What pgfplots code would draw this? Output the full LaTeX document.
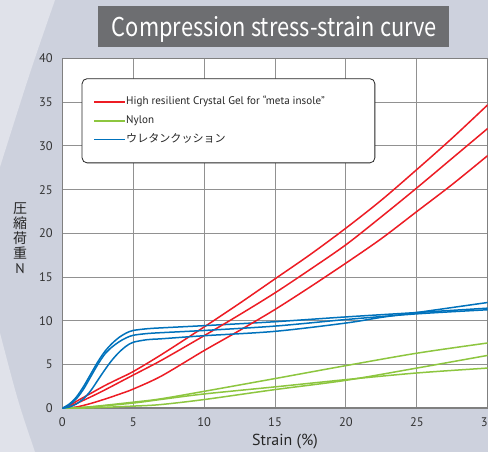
\documentclass[border=0pt]{standalone}
\usepackage{fontspec}
\setmainfont{PT Sans}
\newfontfamily\cjk{Noto Sans CJK JP}
\usepackage{graphicx}
\usepackage{pgfplots}
\pgfplotsset{compat=1.18}
\definecolor{bgmid}{RGB}{205,209,221}
\definecolor{bglight}{RGB}{224,226,234}
\definecolor{titlegray}{RGB}{109,110,113}
\definecolor{axisgray}{RGB}{128,128,128}
\definecolor{gridgray}{RGB}{145,145,145}
\definecolor{cred}{RGB}{237,28,36}
\definecolor{cgreen}{RGB}{141,198,63}
\definecolor{cblue}{RGB}{0,114,188}
\begin{document}
\begin{tikzpicture}[x=1bp,y=1bp]
\fill[bgmid] (0,0) rectangle (488,452);
\fill[bglight] (0,452) -- (55,452) .. controls (30,380) .. (0,285) -- cycle;
\fill[bglight] (0,0) -- (35,0) .. controls (18,50) .. (0,119) -- cycle;
\fill[titlegray] (98,405) rectangle (449,446);
\node[text=white, inner sep=0pt, anchor=base] at (274.5,415.3)
  {\resizebox{325bp}{\height}{\cjk\fontsize{26}{26}\selectfont Compression stress-strain curve}};
\begin{axis}[
  at={(62.3bp,43.7bp)}, anchor=south west,
  scale only axis, width=425.4bp, height=349.8bp,
  xmin=0, xmax=30, ymin=0, ymax=40,
  xtick={0,5,...,30}, ytick={0,5,...,40},
  grid=major,
  major grid style={draw=gridgray, line width=1bp},
  axis line style={draw=axisgray, line width=1.6bp},
  axis background/.style={fill=white},
  major tick length=0pt,
  /pgf/number format/assume math mode=true,
  tick label style={font=\fontsize{12.5}{14}\selectfont, text=black!80},
  xticklabel style={yshift=-6bp},
  yticklabel style={xshift=-6bp},
  xlabel={Strain (\%)},
  every axis x label/.style={at={(axis description cs:0.5235,0)}, anchor=center, yshift=-33.7bp, font=\fontsize{16}{18}\selectfont, text=black!85},
  ylabel={{\cjk 圧}\\{\cjk 縮}\\{\cjk 荷}\\{\cjk 重}\\N},
  every axis y label/.style={at={(axis description cs:-0.0994,0.487)}, anchor=center, align=center, font=\fontsize{14}{15}\selectfont, text=black!85},
  legend image code/.code={\draw[#1, line width=1.6bp] (0bp,0bp) -- (26bp,0bp); \path (0bp,0bp) -- (31bp,0bp);},
  legend cell align=left,
  legend style={at={(axis description cs:0.0456,0.9434)}, anchor=north west,
    draw=black!85, line width=0.8bp, rounded corners=5bp, fill=white,
    font=\fontsize{11.1}{13}\selectfont, text=black!85,
    inner xsep=11.6bp, inner ysep=18bp, row sep=8.35bp,
    nodes={inner sep=0pt, text height=8bp, text depth=2.5bp}},
  every axis plot/.append style={line width=1.5bp, smooth},
]
\addplot[cred] coordinates {(0,0) (0.5,0.3) (1,0.8) (2,1.7) (3,2.6) (4,3.4) (5,4.2) (7,6.15) (10,9.3) (12.5,12.0) (15,14.8) (17.5,17.6) (20,20.6) (22.5,23.8) (25,27.3) (27.5,30.9) (30,34.7)};
\addlegendentry{\makebox[237bp][l]{High resilient Crystal Gel for “meta insole”}}
\addplot[cgreen] coordinates {(0,0) (2,0.18) (5,0.7) (6.9,1.07) (10,1.94) (15,3.4) (20,4.88) (25,6.3) (30,7.47)};
\addlegendentry{Nylon}
\addplot[cblue] coordinates {(0,0) (0.5,0.5) (1,1.3) (1.5,2.5) (2,3.9) (2.5,5.3) (3,6.5) (3.5,7.4) (4,8.1) (4.5,8.6) (5,8.9) (6,9.1) (7,9.2) (10,9.45) (15,9.9) (20,10.45) (25,10.95) (30,11.45)};
\addlegendentry{\cjk ウレタンクッション}
\addplot[cred, forget plot] coordinates {(0,0) (0.5,0.2) (1,0.55) (2,1.3) (3,2.1) (4,2.95) (5,3.8) (7,5.5) (10,8.3) (12.5,10.7) (15,13.2) (17.5,15.9) (20,18.7) (22.5,21.9) (25,25.2) (27.5,28.6) (30,32.0)};
\addplot[cred, forget plot] coordinates {(0,0) (1,0.15) (2,0.55) (3,1.05) (4,1.6) (5,2.2) (7,3.7) (10,6.6) (12.5,8.9) (15,11.3) (17.5,13.9) (20,16.6) (22.5,19.4) (25,22.5) (27.5,25.6) (30,28.9)};
\addplot[cgreen, forget plot] coordinates {(0,0) (2,0.15) (5,0.6) (6.9,1.0) (10,1.64) (15,2.45) (20,3.28) (25,4.04) (30,4.6)};
\addplot[cgreen, forget plot] coordinates {(0,0) (2,0.05) (5,0.25) (6.9,0.42) (10,1.0) (15,2.14) (20,3.2) (25,4.6) (30,6.05)};
\addplot[cblue, forget plot] coordinates {(0,0) (0.5,0.4) (1,1.1) (1.5,2.2) (2,3.6) (2.5,5.0) (3,6.2) (3.5,7.0) (4,7.6) (4.5,8.05) (5,8.35) (6,8.55) (7,8.65) (10,8.9) (15,9.4) (20,10.15) (25,10.8) (30,11.27)};
\addplot[cblue, forget plot] coordinates {(0,0) (0.5,0.15) (1,0.5) (1.5,1.1) (2,2.0) (2.5,3.2) (3,4.4) (3.5,5.5) (4,6.4) (4.5,7.1) (5,7.55) (6,7.85) (7,7.95) (10,8.3) (15,8.8) (20,9.75) (22.5,10.4) (25,10.95) (30,12.1)};
\end{axis}
\pgfresetboundingbox
\useasboundingbox (0,0) rectangle (488,452);
\end{tikzpicture}
\end{document}
